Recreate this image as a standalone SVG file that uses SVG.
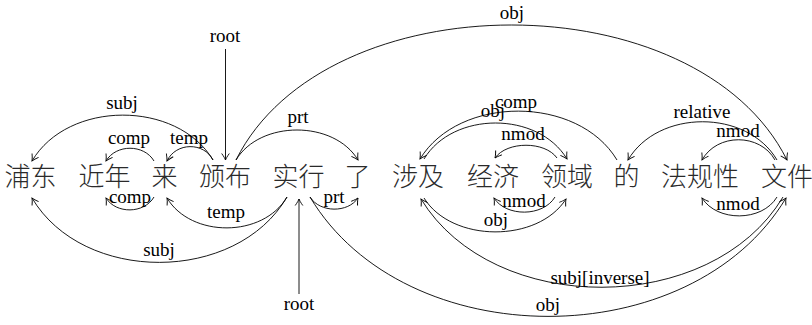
<svg xmlns="http://www.w3.org/2000/svg" width="812" height="325" viewBox="0 0 812 325">
<style>
.w{font-family:"Noto Sans CJK SC","Noto Sans CJK JP",sans-serif;font-size:26px;font-weight:300;fill:#2a2a2a;text-anchor:middle}
.l{font-family:"Liberation Serif",serif;font-size:19px;fill:#000;text-anchor:middle}
.e{fill:none;stroke:#000;stroke-width:0.9;marker-end:url(#ah)}
</style>
<defs>
<marker id="ah" viewBox="-8 -5 9 10" refX="0" refY="0" markerWidth="9" markerHeight="10" markerUnits="userSpaceOnUse" orient="auto" overflow="visible">
<path d="M-6.5,-3.8 C-3.5,-1.6 -1.2,-0.5 0,0 C-1.2,0.5 -3.5,1.6 -6.5,3.8" fill="none" stroke="#000" stroke-width="0.9"/>
</marker>
</defs>
<rect width="812" height="325" fill="#fff"/>
<g id="nodes">
<g id="n1"><text class="w" x="30.5" y="186">浦东</text></g>
<g id="n2"><text class="w" x="104.5" y="186">近年</text></g>
<g id="n3"><text class="w" x="164.5" y="186">来</text></g>
<g id="n4"><text class="w" x="225" y="186">颁布</text></g>
<g id="n5"><text class="w" x="298.5" y="186">实行</text></g>
<g id="n6"><text class="w" x="357.5" y="186">了</text></g>
<g id="n7"><text class="w" x="418" y="186">涉及</text></g>
<g id="n8"><text class="w" x="493" y="186">经济</text></g>
<g id="n9"><text class="w" x="567" y="186">领域</text></g>
<g id="n10"><text class="w" x="626.5" y="186">的</text></g>
<g id="n11"><text class="w" x="700" y="186">法规性</text></g>
<g id="n12"><text class="w" x="787" y="186">文件</text></g>
</g>
<g id="connectors">
<g id="root-top"><line class="e" x1="225.5" y1="49" x2="225.5" y2="160"/><text class="l" x="225" y="42">root</text></g>
<g id="root-bottom"><line class="e" x1="299" y1="294" x2="299" y2="199"/><text class="l" x="299" y="310">root</text></g>
<g id="e1"><path class="e" d="M213 160 C177 100 68 100 32 161"/><text class="l" x="122" y="109">subj</text></g>
<g id="e2"><path class="e" d="M154 161 C144 144 116 144 106 161"/><text class="l" x="129" y="144">comp</text></g>
<g id="e3"><path class="e" d="M213 160 C204 142 176 142 167 161"/><text class="l" x="189" y="144">temp</text></g>
<g id="e4"><path class="e" d="M236 160 C326 -20 697 -20 787 160"/><text class="l" x="512" y="19">obj</text></g>
<g id="e5"><path class="e" d="M236 160 C260 120 334 120 358 160"/><text class="l" x="298" y="123">prt</text></g>
<g id="e6"><path class="e" d="M617 160 C578 95 459 95 420 159"/><text class="l" x="516" y="108">comp</text></g>
<g id="e7"><path class="e" d="M424 159 C453 111 538 111 567 159"/><text class="l" x="493" y="117">obj</text></g>
<g id="e8"><path class="e" d="M557 158 C545 141 507 141 495 158"/><text class="l" x="523" y="140">nmod</text></g>
<g id="e9"><path class="e" d="M777 160 C747 109 658 109 628 160"/><text class="l" x="702" y="118">relative</text></g>
<g id="e10"><path class="e" d="M775 160 C760 133 717 133 702 160"/><text class="l" x="738" y="137">nmod</text></g>
<g id="e11"><path class="e" d="M154 197 C144 214 116 214 106 198"/><text class="l" x="130" y="203">comp</text></g>
<g id="e12"><path class="e" d="M287 197 C263 238 191 238 167 198"/><text class="l" x="226" y="218">temp</text></g>
<g id="e13"><path class="e" d="M287 197 C236 284 83 284 32 198"/><text class="l" x="159" y="256">subj</text></g>
<g id="e14"><path class="e" d="M310 197 C320 213 348 213 358 198"/><text class="l" x="334" y="203">prt</text></g>
<g id="e15"><path class="e" d="M310 197 C405 356 691 356 786 198"/><text class="l" x="548" y="311">obj</text></g>
<g id="e16"><path class="e" d="M555 197 C543 217 506 217 494 198"/><text class="l" x="524" y="207">nmod</text></g>
<g id="e17"><path class="e" d="M424 198 C452 243 538 243 566 199"/><text class="l" x="496" y="226">obj</text></g>
<g id="e18"><path class="e" d="M783 197 C711 317 493 317 421 199"/><text class="l" x="600" y="284">subj[inverse]</text></g>
<g id="e19"><path class="e" d="M777 197 C762 222 717 222 702 198"/><text class="l" x="738" y="210">nmod</text></g>
</g>
</svg>
